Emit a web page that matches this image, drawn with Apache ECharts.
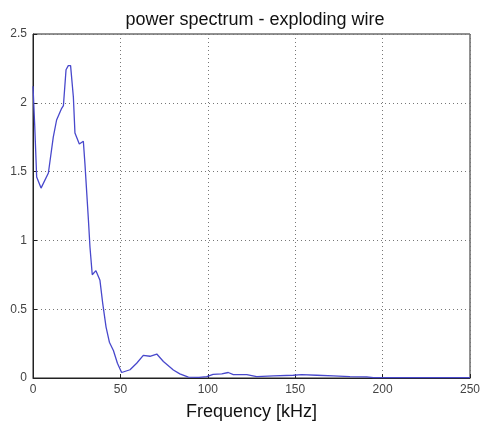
<!DOCTYPE html>
<html><head><meta charset="utf-8">
<script src="https://cdn.jsdelivr.net/npm/echarts@6/dist/echarts.min.js"></script>
<style>html,body{margin:0;padding:0;background:#fff}#c{width:483px;height:421px}</style>
</head><body><div id="c"></div>
<script>
var freq  = [0, 0.2, 1, 2.1, 4.6, 8.8, 11.6, 13.5, 16.4, 17.4, 18.9, 20.2, 21.5, 23.1, 24, 26.5, 28.8, 29.7, 31.7, 32.6, 33.9, 36, 38.3, 39.9, 41.8, 43.7, 46, 48.3, 50.7, 55.5, 59.3, 63.1, 66.9, 70.8, 74.6, 80.3, 84, 88.9, 95, 99.4, 103, 108, 111.7, 114.6, 122.3, 128, 137.5, 148.9, 153.7, 162.3, 171.8, 181.3, 190.9, 194.7, 200, 250];
var power = [2.12, 2.12, 1.83, 1.46, 1.38, 1.49, 1.75, 1.875, 1.96, 1.98, 2.24, 2.27, 2.27, 2.04, 1.78, 1.70, 1.72, 1.56, 1.15, 0.95, 0.75, 0.78, 0.71, 0.54, 0.37, 0.26, 0.20, 0.107, 0.04, 0.06, 0.107, 0.165, 0.158, 0.174, 0.12, 0.058, 0.03, 0.006, 0.004, 0.01, 0.027, 0.03, 0.04, 0.025, 0.025, 0.01, 0.015, 0.02, 0.025, 0.02, 0.015, 0.01, 0.008, 0.002, 0.002, 0.002];
var xTicks = [0, 50, 100, 150, 200, 250];
var yTicks = [0, 0.5, 1, 1.5, 2, 2.5];
var titleText = 'power spectrum - exploding wire';
var xName = 'Frequency [kHz]';

var pts = freq.map(function(f, i){ return [f, power[i]]; });
var chart = echarts.init(document.getElementById('c'));
var font = 'Liberation Sans, Arial, sans-serif';
chart.setOption({
  animation: false,
  title: { text: titleText, left: 250, textAlign: 'center', top: 6,
    textStyle: { fontSize: 18, fontWeight: 'normal', color: '#111', fontFamily: font } },
  grid: { left: 33, right: 13, top: 34, bottom: 43, show: true, borderColor: '#222', borderWidth: 1,
    containLabel: false, outerBoundsMode: 'none' },
  xAxis: { type: 'value', min: xTicks[0], max: xTicks[xTicks.length-1], interval: 50,
    name: xName, nameLocation: 'middle', nameGap: 25,
    nameTextStyle: { fontSize: 18, color: '#111', fontFamily: font },
    axisLine: { lineStyle: { color: '#222' } },
    axisTick: { inside: true, length: 4, lineStyle: { color: '#222' } },
    axisLabel: { color: '#444', fontSize: 12, fontFamily: font, margin: 6 },
    splitLine: { show: true, lineStyle: { type: [1, 3], color: '#777' } } },
  yAxis: { type: 'value', min: yTicks[0], max: yTicks[yTicks.length-1], interval: 0.5,
    axisLine: { show: true, lineStyle: { color: '#222' } },
    axisTick: { show: true, inside: true, length: 4, lineStyle: { color: '#222' } },
    axisLabel: { color: '#444', fontSize: 12, fontFamily: font, margin: 6 },
    splitLine: { show: true, lineStyle: { type: [1, 3], color: '#777' } } },
  series: [{ type: 'line', data: pts, showSymbol: false, smooth: false,
    lineStyle: { color: '#4848cc', width: 1.3 }, itemStyle: { color: '#4848cc' } }]
});
</script></body></html>
